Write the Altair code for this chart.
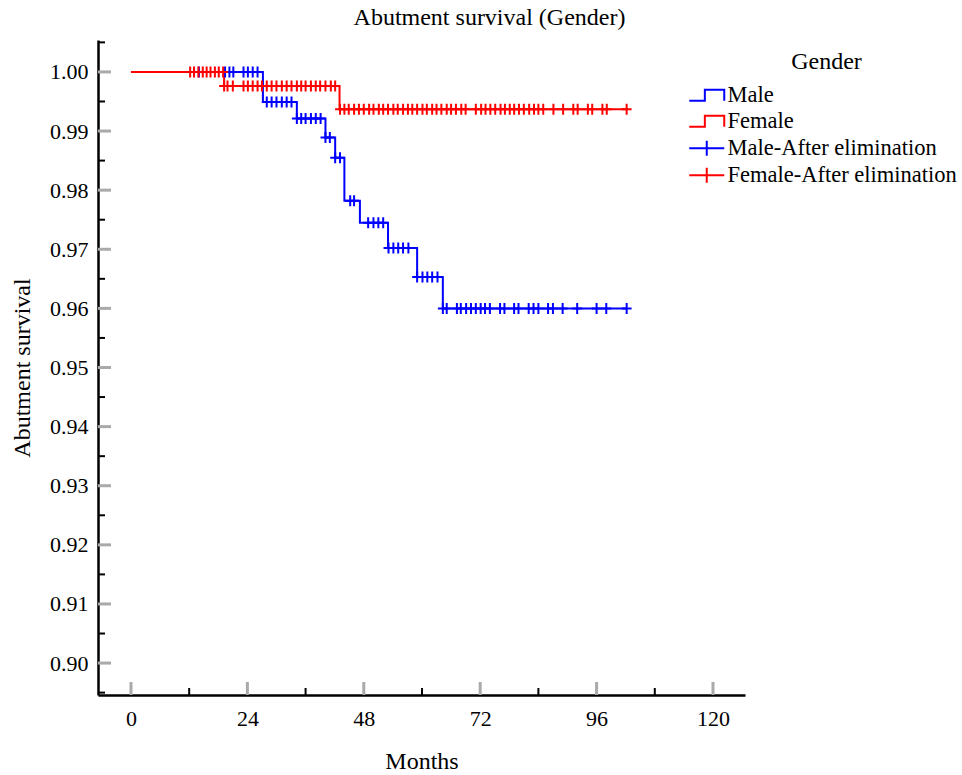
import altair as alt
import pandas as pd

# ---- Kaplan-Meier step curves ----
male_times = [0, 27.2, 34.2, 40.1, 42.1, 44.0, 47.2, 53.0, 59.0, 64.3, 102.2]
male_surv = [1.0, 0.9949, 0.9921, 0.9889, 0.9855, 0.9782, 0.9745, 0.9702, 0.9653, 0.9600, 0.9600]
female_times = [0, 19.2, 43.0, 102.2]
female_surv = [1.0, 0.9976, 0.9937, 0.9937]

# ---- censored observations, grouped by the step level they sit on ----
male_censor = [
    [14.0, 19.4, 20.3, 21.1, 23.2, 24.1, 25.1, 26.1],
    [28.0, 29.0, 30.0, 31.1, 32.1, 33.1],
    [34.2, 35.1, 36.0, 37.1, 38.1, 39.1],
    [40.1, 41.0],
    [42.1, 43.1],
    [45.2, 46.0],
    [48.9, 50.0, 51.0, 52.0],
    [53.1, 54.1, 55.1, 56.1, 57.2],
    [59.0, 60.1, 61.1, 62.1, 63.2],
    [64.3, 65.1, 67.2, 68.0, 69.1, 70.1, 71.1, 72.1, 73.0, 74.0, 76.1, 77.0,
     79.0, 79.9, 82.0, 83.0, 84.0, 86.0, 87.0, 89.0, 92.0, 96.0, 98.0, 102.2],
]
female_censor = [
    [12.2, 13.0, 13.9, 14.8, 15.6, 16.4, 17.3, 18.1, 19.0],
    [19.2, 19.9, 21.0, 23.2, 24.1, 25.1, 26.1, 27.0, 28.0, 29.0, 30.0, 31.1,
     32.1, 33.1, 34.2, 35.1, 36.0, 37.1, 38.1, 39.0, 40.1, 41.2, 42.1],
    [43.1, 44.0, 44.9, 46.0, 47.0, 48.0, 49.1, 50.0, 51.1, 52.0, 53.0, 54.1,
     55.0, 56.1, 57.1, 58.0, 59.0, 60.1, 61.0, 62.1, 63.0, 64.0, 65.1, 66.0,
     67.0, 68.1, 69.0, 71.1, 72.2, 73.1, 74.1, 75.1, 76.2, 77.1, 78.1, 79.0,
     80.0, 81.0, 82.1, 83.1, 84.0, 85.0, 87.1, 89.1, 91.2, 92.1, 94.2, 95.1,
     97.2, 98.1, 102.2],
]

series_names = ["Male", "Female", "Male-After elimination", "Female-After elimination"]
series_colors = ["#0000ff", "#ff0000", "#0000ff", "#ff0000"]

x_major = [0, 24, 48, 72, 96, 120]
x_minor = [12, 36, 60, 84, 108]
y_major = [0.90, 0.91, 0.92, 0.93, 0.94, 0.95, 0.96, 0.97, 0.98, 0.99, 1.00]
y_minor = [0.895, 0.905, 0.915, 0.925, 0.935, 0.945, 0.955, 0.965, 0.975, 0.985, 0.995, 1.005]

FONT = "Liberation Serif"

# ---- tables ----
curve_rows = []
for t, s in zip(male_times, male_surv):
    curve_rows.append({"t": t, "s": s, "series": "Male"})
for t, s in zip(female_times, female_surv):
    curve_rows.append({"t": t, "s": s, "series": "Female"})
curves = pd.DataFrame(curve_rows)

cens_rows = []
for lvl, group in enumerate(male_censor):
    for t in group:
        cens_rows.append({"t": t, "s": male_surv[lvl], "series": "Male-After elimination"})
for lvl, group in enumerate(female_censor):
    for t in group:
        cens_rows.append({"t": t, "s": female_surv[lvl], "series": "Female-After elimination"})
cens = pd.DataFrame(cens_rows)

xscale = alt.Scale(domain=[-6.8, 126.6], nice=False, zero=False)
yscale = alt.Scale(domain=[0.8946, 1.0054], nice=False, zero=False)
cscale = alt.Scale(domain=series_names, range=series_colors)

# legend glyphs (unit size 20px; paths reach past the unit box to be 35px wide)
STEP = "M-1.75,0.55H-0.19V-0.55H1.75V0.55"
PLUS = "M-1.75,0H1.75M0,-0.75V0.75"
sscale = alt.Scale(domain=series_names, range=[STEP, STEP, PLUS, PLUS])

W, H = 647, 655

xaxis = alt.Axis(values=x_major, title="Months", labelPadding=13, titlePadding=20,
                 labelFlush=False, format="d")
yaxis = alt.Axis(values=y_major, title="Abutment survival", format=".2f",
                 labelPadding=10, titlePadding=15)
legend = alt.Legend(title="Gender", orient="none", legendX=597.5, legendY=10,
                    symbolSize=400, symbolStrokeWidth=2, symbolOpacity=1,
                    labelOffset=9.5, rowPadding=3, padding=0, labelLimit=0,
                    titleAnchor="middle", titlePadding=10)


def X(field):
    return alt.X(field, scale=xscale, axis=xaxis, title="Months")


def Y(field):
    return alt.Y(field, scale=yscale, axis=yaxis, title="Abutment survival")


COLOR = alt.Color("series:N", scale=cscale, legend=legend, title="Gender")

lines = alt.Chart(curves).mark_line(interpolate="step-after", strokeWidth=2).encode(
    x=X("t:Q"), y=Y("s:Q"), color=COLOR, detail="series:N",
)

marks = alt.Chart(cens).mark_point(
    shape="M-0.9,0H0.9M0,-1V1", size=121, strokeWidth=2, filled=False, opacity=1
).encode(x=X("t:Q"), y=Y("s:Q"), color=COLOR)

legend_df = pd.DataFrame({"series": series_names})
legend_layer = alt.Chart(legend_df).mark_point(filled=False, opacity=0).encode(
    x=alt.value(0),
    y=alt.value(0),
    color=COLOR,
    shape=alt.Shape("series:N", scale=sscale, legend=legend, title="Gender"),
)

ymaj = alt.Chart(pd.DataFrame({"v": y_major})).mark_rule(color="#aaaaaa", strokeWidth=3).encode(
    y=Y("v:Q"), x=alt.value(0), x2=alt.value(13))
ymin = alt.Chart(pd.DataFrame({"v": y_minor})).mark_rule(color="black", strokeWidth=2).encode(
    y=Y("v:Q"), x=alt.value(0), x2=alt.value(7))
xmaj = alt.Chart(pd.DataFrame({"v": x_major})).mark_rule(color="#aaaaaa", strokeWidth=3).encode(
    x=X("v:Q"), y=alt.value(H), y2=alt.value(H - 13))
xmin = alt.Chart(pd.DataFrame({"v": x_minor})).mark_rule(color="black", strokeWidth=2).encode(
    x=X("v:Q"), y=alt.value(H), y2=alt.value(H - 7))

chart = alt.layer(lines, ymaj, ymin, xmaj, xmin, marks, legend_layer).properties(
    width=W, height=H,
    padding={"left": 98, "top": 40, "right": 217, "bottom": 80},
    autosize=alt.AutoSizeParams(type="none"),
    title=alt.Title("Abutment survival (Gender)", font=FONT, fontSize=24,
                    fontWeight="normal", color="black", anchor="middle",
                    dx=68, offset=8),
).configure_view(stroke=None).configure_axis(
    labelFont=FONT, labelFontSize=22, labelColor="black",
    titleFont=FONT, titleFontSize=24, titleFontWeight="normal", titleColor="black",
    domainColor="black", domainWidth=2.5, ticks=False, grid=False,
).configure_legend(
    labelFont=FONT, labelFontSize=22.5, labelColor="black",
    titleFont=FONT, titleFontSize=24, titleFontWeight="normal", titleColor="black",
)

chart.save("out.html", embed_options={"renderer": "svg", "actions": False})
